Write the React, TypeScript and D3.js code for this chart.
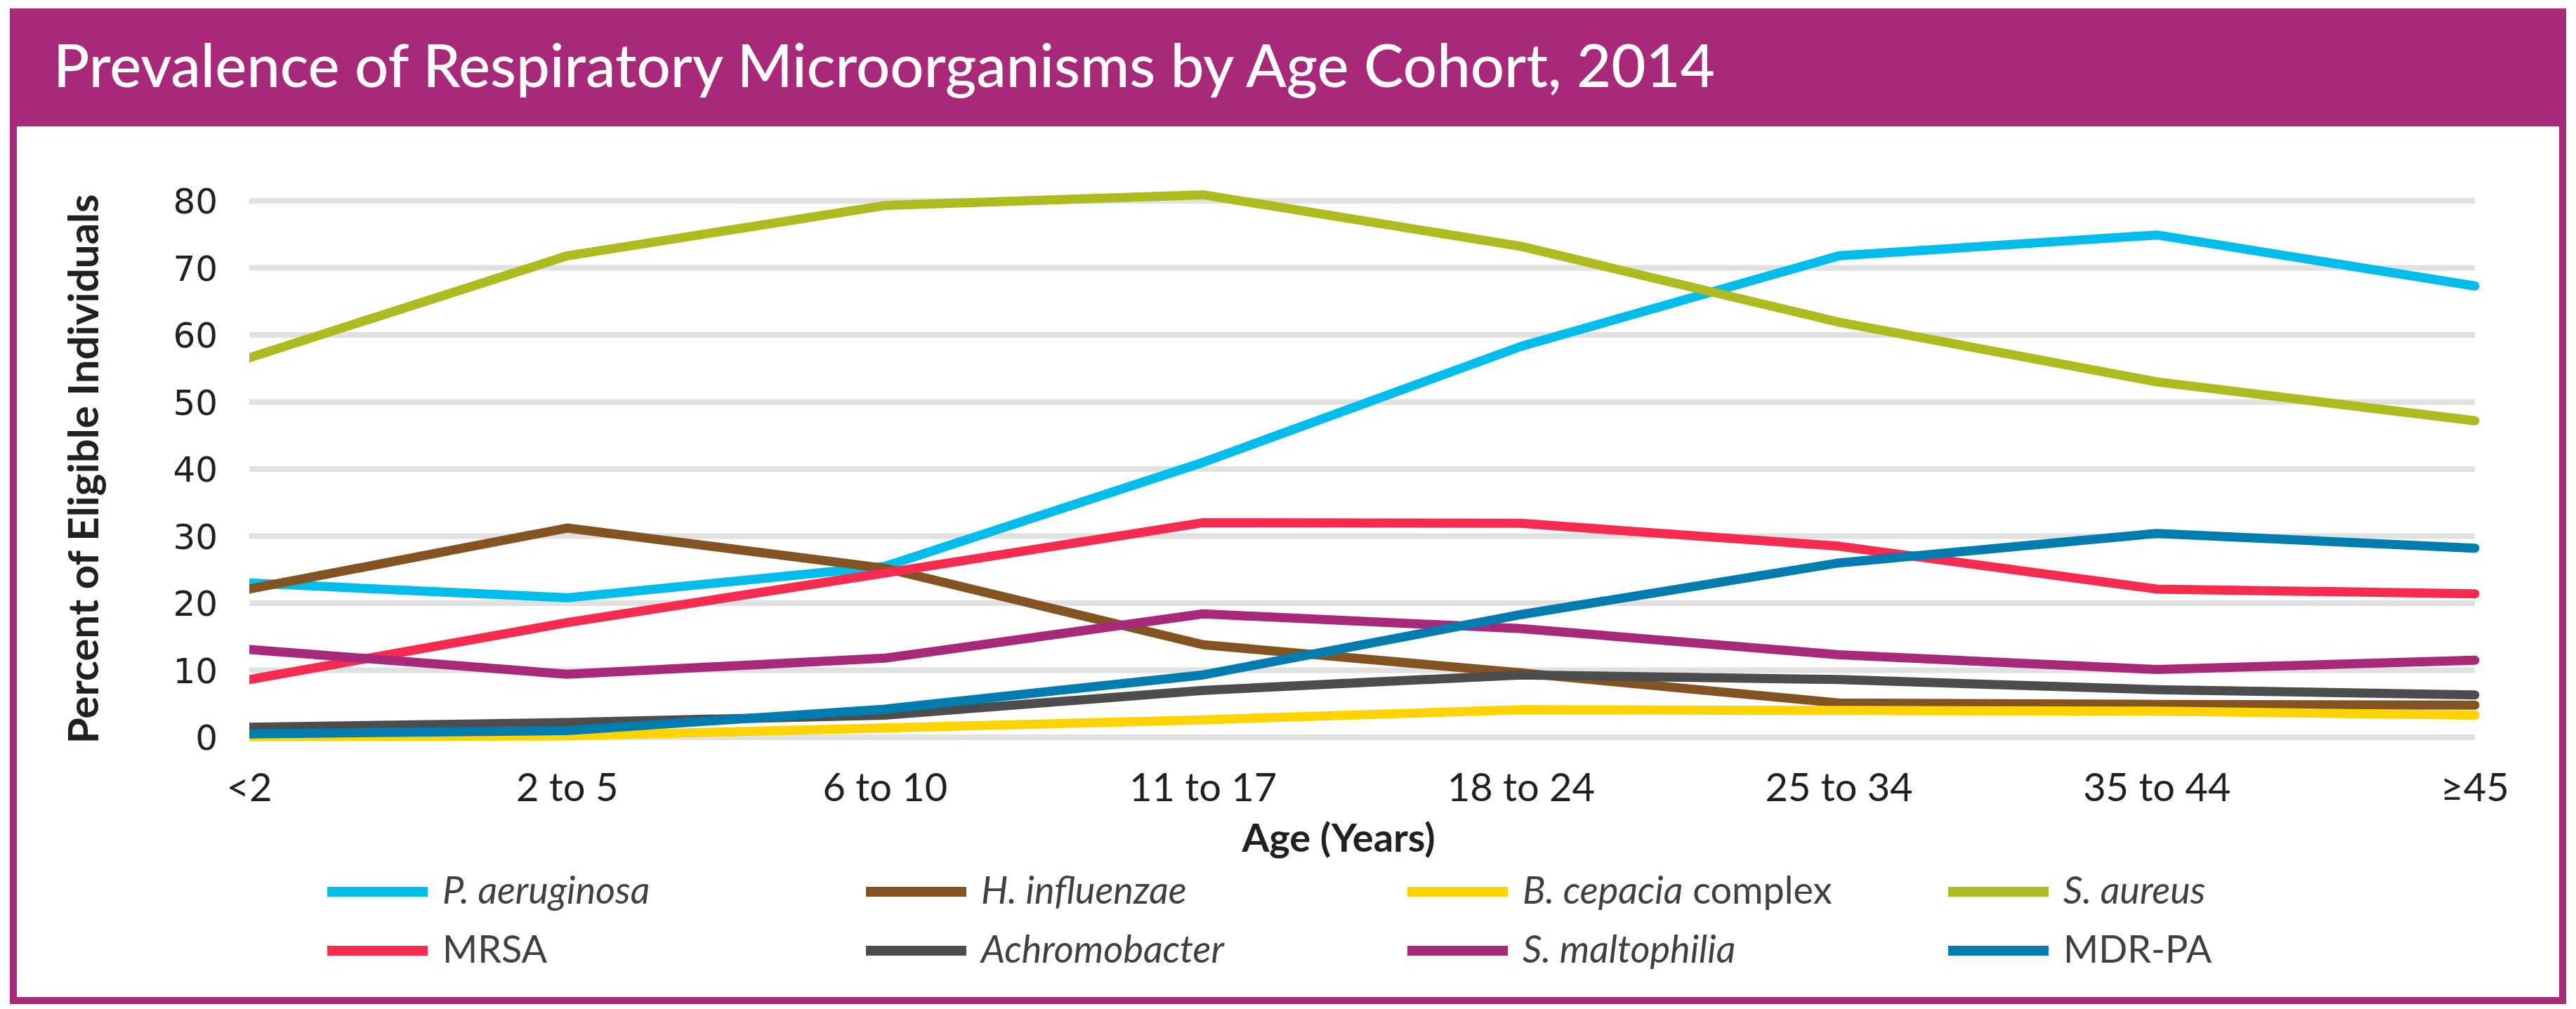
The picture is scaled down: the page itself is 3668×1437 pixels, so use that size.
import React from 'react';
import * as d3 from 'd3';

const ageCohorts = ['<2', '2 to 5', '6 to 10', '11 to 17', '18 to 24', '25 to 34', '35 to 44', '≥45'];
const yTicks = [0, 10, 20, 30, 40, 50, 60, 70, 80];

const pAeruginosa = [23, 20.8, 25.5, 41, 58.3, 71.8, 74.9, 67.3];
const hInfluenzae = [22.1, 31.2, 25.2, 13.8, 9.6, 5.1, 4.9, 4.8];
const bCepacia = [0.1, 0.2, 1.4, 2.6, 4.1, 4.0, 3.9, 3.3];
const sAureus = [56.6, 71.8, 79.3, 80.9, 73.2, 61.9, 53.0, 47.2];
const mrsa = [8.6, 17.1, 24.5, 32.0, 31.9, 28.5, 22.1, 21.4];
const achromobacter = [1.5, 2.2, 3.3, 7.0, 9.3, 8.6, 7.1, 6.3];
const sMaltophilia = [13.1, 9.4, 11.8, 18.4, 16.2, 12.3, 10.1, 11.5];
const mdrPa = [0.5, 1.0, 4.2, 9.3, 18.3, 26.0, 30.4, 28.2];

// name parts: [italic part, regular part]
const series = [
  { key: 'pa', label: ['P. aeruginosa', ''], color: '#00BDEB', values: pAeruginosa },
  { key: 'hi', label: ['H. influenzae', ''], color: '#845322', values: hInfluenzae },
  { key: 'bc', label: ['B. cepacia', ' complex'], color: '#FFD400', values: bCepacia },
  { key: 'sa', label: ['S. aureus', ''], color: '#ADBB1E', values: sAureus },
  { key: 'mrsa', label: ['', 'MRSA'], color: '#F72B50', values: mrsa },
  { key: 'ac', label: ['Achromobacter', ''], color: '#4D4D4D', values: achromobacter },
  { key: 'sm', label: ['S. maltophilia', ''], color: '#A8287A', values: sMaltophilia },
  { key: 'mdr', label: ['', 'MDR-PA'], color: '#007CAE', values: mdrPa },
];

const W = 3668;
const H = 1437;
const frameColor = '#A8297A';
const plot = { left: 355, right: 3524, top: 286, bottom: 1050 };

export default function App() {
  const x = d3.scalePoint<string>().domain(ageCohorts).range([plot.left, plot.right]);
  const y = d3.scaleLinear().domain([0, 80]).range([plot.bottom, plot.top]);

  const line = d3.line<number>()
    .x((_, i) => x(ageCohorts[i]) as number)
    .y(d => y(d));

  const legendCols = [466, 1233, 2004, 2774];
  const legendRows = [1270, 1354];

  return (
    <>
      <style>{`body{margin:0}`}</style>
      <svg width={W} height={H} style={{ display: 'block', background: '#fff' }}>
        <defs>
          <clipPath id="plotclip">
            <rect x={plot.left} y={0} width={plot.right - plot.left + 20} height={H} />
          </clipPath>
        </defs>

        {/* frame and title band */}
        <rect x={14} y={12} width={3640} height={168} fill={frameColor} />
        <rect x={19} y={17} width={3630} height={1408} fill="none" stroke={frameColor} strokeWidth={10} />
        <text x={76} y={124} fill="#fff" fontFamily="Lato, 'Noto Sans', sans-serif" fontSize={85} fontWeight={500}>
          Prevalence of Respiratory Microorganisms by Age Cohort, 2014
        </text>

        {/* grid */}
        {yTicks.map(t => (
          <line key={t} x1={plot.left} x2={plot.right} y1={y(t)} y2={y(t)} stroke="#E0E1E0" strokeWidth={8} />
        ))}

        {/* y tick labels */}
        {yTicks.map(t => (
          <text key={t} x={310} y={y(t)} dy="0.36em" textAnchor="end" fill="#231F20"
            fontFamily="'DejaVu Sans', sans-serif" fontSize={50}>
            {t}
          </text>
        ))}

        <text transform={`translate(140,${(plot.top + plot.bottom) / 2}) rotate(-90)`} textAnchor="middle"
          fill="#231F20" fontFamily="Lato, sans-serif" fontWeight={700} fontSize={60}>
          Percent of Eligible Individuals
        </text>

        {/* x tick labels */}
        {ageCohorts.map(c => (
          <text key={c} x={x(c)} y={1141} textAnchor="middle" fill="#231F20"
            fontFamily="Lato, sans-serif" fontSize={56}>
            {c}
          </text>
        ))}
        <text x={1906} y={1213} textAnchor="middle" fill="#231F20" fontFamily="Lato, sans-serif"
          fontWeight={700} fontSize={56}>
          Age (Years)
        </text>

        {/* lines */}
        <g clipPath="url(#plotclip)">
          {series.map(s => (
            <path key={s.key} d={line(s.values) || ''} fill="none" stroke={s.color} strokeWidth={13}
              strokeLinejoin="round" strokeLinecap="round" />
          ))}
        </g>

        {/* legend */}
        {series.map((s, i) => {
          const lx = legendCols[i % 4];
          const ly = legendRows[Math.floor(i / 4)];
          return (
            <g key={s.key}>
              <line x1={lx} x2={lx + 143} y1={ly} y2={ly} stroke={s.color} strokeWidth={14} />
              <text x={lx + 164} y={ly + 17} fill="#404040" fontFamily="Lato, sans-serif" fontSize={54}>
                {s.label[0] && <tspan fontStyle="italic">{s.label[0]}</tspan>}
                {s.label[1] && <tspan>{s.label[1]}</tspan>}
              </text>
            </g>
          );
        })}
      </svg>
    </>
  );
}
